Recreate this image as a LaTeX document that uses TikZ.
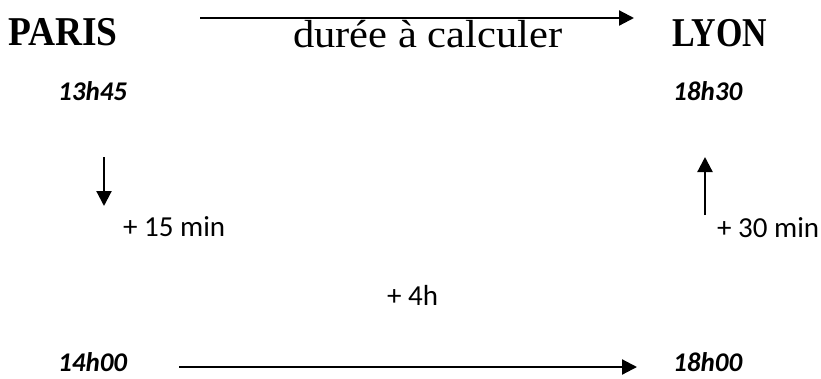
\documentclass[tikz,border=0pt]{standalone}
\usepackage{fontspec}
\setmainfont{Liberation Serif}
\newfontfamily\carl{Carlito}
\usetikzlibrary{arrows.meta}
\begin{document}
\begin{tikzpicture}[x=1pt,y=-1pt,
  city/.style={font=\fontsize{39}{39}\selectfont\bfseries, inner sep=0pt, anchor=base west},
  titletext/.style={font=\fontsize{38}{38}\selectfont, inner sep=0pt, anchor=base west},
  timetext/.style={font=\carl\fontsize{27}{27}\selectfont\bfseries\itshape, inner sep=0pt, anchor=base west},
  addtext/.style={font=\carl\fontsize{29}{29}\selectfont, inner sep=0pt, anchor=base west},
  arr/.style={line width=2.2pt, -{Triangle[length=15pt,width=15pt]}}]
\useasboundingbox (0,0) rectangle (821,378);
\node[city] (paris) at (8,45) {\scalebox{0.96}[1.05]{PARIS}};
\node[city] (lyon) at (672,46) {\scalebox{0.87}[1.05]{LYON}};
\node[titletext] (duree) at (293,47) {\scalebox{1.12}[1.03]{durée à calculer}};
\node[timetext] (t1345) at (58,100) {13h45};
\node[timetext] (t1830) at (673,100) {18h30};
\node[timetext] (t1400) at (58,371) {14h00};
\node[timetext] (t1800) at (673,371) {18h00};
\node[addtext] (p15) at (123,236) {+ 15 min};
\node[addtext] (p30) at (717,237) {+ 30 min};
\node[addtext] (p4) at (387,305) {+ 4h};
\coordinate (ta) at (200,18);
\coordinate (tb) at (634,18);
\coordinate (da) at (104,157);
\coordinate (db) at (104,206);
\coordinate (ua) at (705,215);
\coordinate (ub) at (705,157);
\coordinate (ba) at (179,367);
\coordinate (bb) at (637,367);
\draw[arr] (ta) -- (tb);
\draw[arr] (da) -- (db);
\draw[arr] (ua) -- (ub);
\draw[arr] (ba) -- (bb);
\end{tikzpicture}
\end{document}
